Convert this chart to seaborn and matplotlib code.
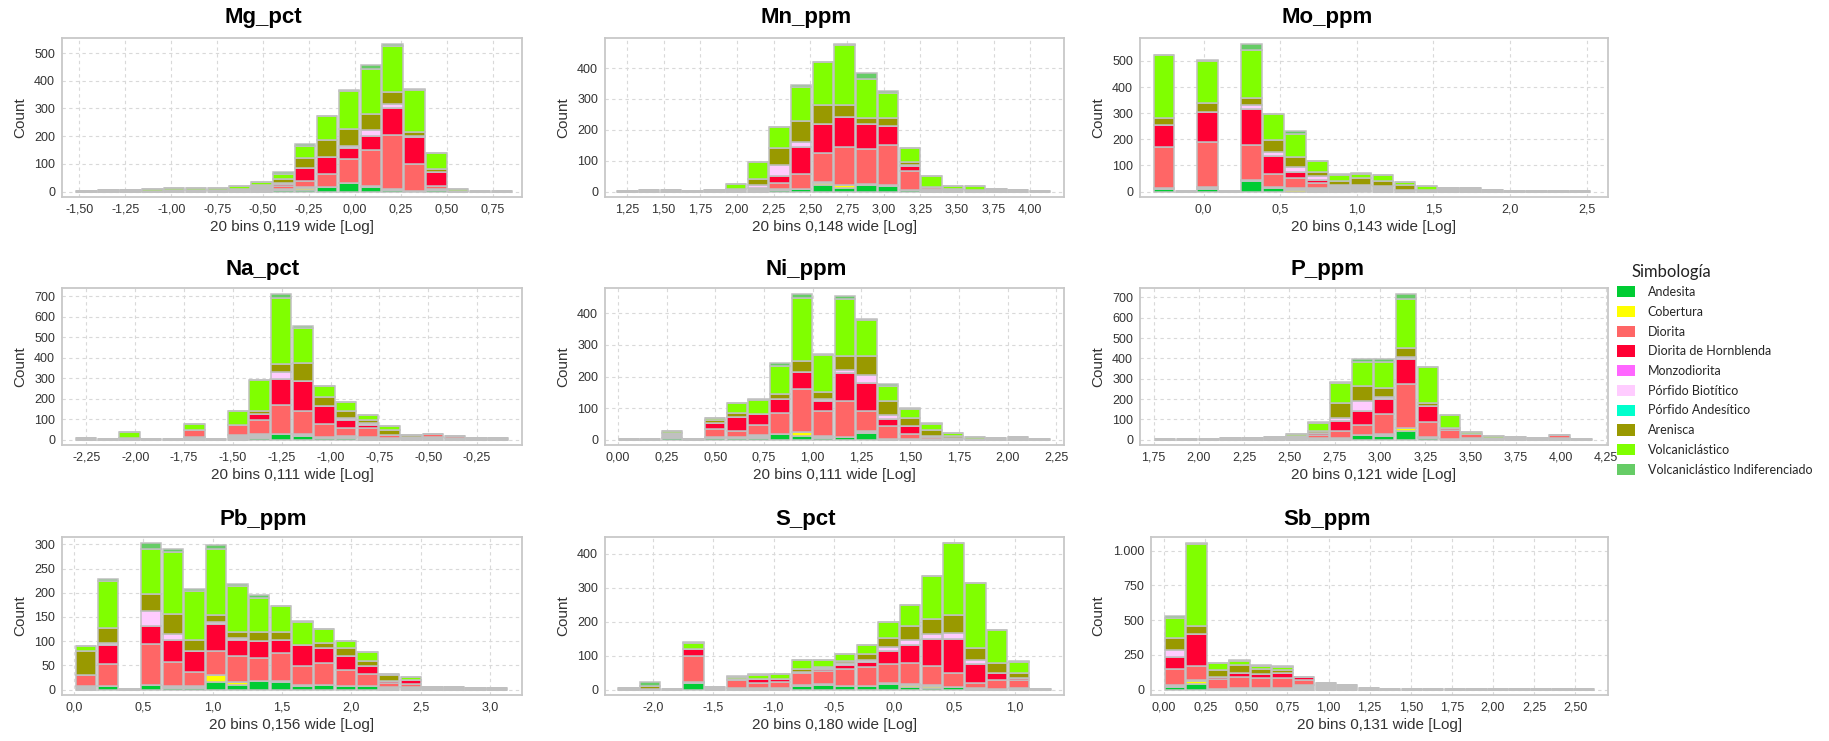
import numpy as np
import pandas as pd
import matplotlib
matplotlib.use("Agg")
import matplotlib.pyplot as plt
from matplotlib.patches import Patch
from matplotlib.ticker import FuncFormatter, MultipleLocator
import seaborn as sns

# columns of every data row, in this order
categories = ["Otro", "Andesita", "Cobertura", "Diorita", "Diorita de Hornblenda",
              "Monzodiorita", "Pórfido Biotítico", "Pórfido Andesítico",
              "Arenisca", "Volcaniclástico", "Volcaniclástico Indiferenciado"]
cat_colors = ["#c0c0c0", "#00cc33", "#ffff00", "#ff6666", "#ff0033", "#ff66ff",
              "#ffccff", "#00ffcc", "#999900", "#80ff00", "#66cc66"]
# bottom -> top order of the stacks
stack_order = ["Andesita", "Cobertura", "Otro", "Diorita", "Diorita de Hornblenda",
               "Monzodiorita", "Pórfido Biotítico", "Pórfido Andesítico",
               "Arenisca", "Volcaniclástico", "Volcaniclástico Indiferenciado"]

# counts per bin (20 bins), one row per bin
mg_pct = [
    [2, 0, 0, 0, 0, 0, 0, 0, 0, 0, 0], [5, 0, 0, 0, 0, 0, 0, 0, 0, 0, 0],
    [5, 0, 0, 0, 0, 0, 0, 0, 0, 0, 0], [4, 0, 0, 0, 0, 0, 0, 0, 0, 6, 0],
    [5, 0, 0, 0, 0, 0, 0, 0, 0, 8, 0], [5, 0, 0, 0, 0, 0, 0, 0, 0, 9, 0],
    [5, 0, 0, 0, 0, 0, 0, 0, 0, 9, 0], [8, 0, 0, 0, 0, 0, 0, 0, 0, 14, 0],
    [24, 0, 0, 0, 0, 0, 0, 0, 0, 12, 0], [5, 5, 0, 10, 8, 0, 4, 0, 12, 20, 6],
    [3, 6, 8, 22, 47, 0, 0, 0, 35, 43, 9], [3, 15, 0, 47, 61, 0, 0, 0, 60, 86, 0],
    [2, 30, 0, 85, 42, 0, 6, 0, 61, 136, 3], [3, 16, 0, 132, 51, 0, 20, 0, 58, 163, 15],
    [3, 6, 0, 196, 95, 0, 16, 0, 42, 169, 6], [2, 2, 0, 95, 99, 0, 4, 0, 12, 154, 2],
    [2, 6, 0, 14, 50, 0, 0, 0, 8, 58, 2], [3, 0, 0, 0, 0, 0, 0, 0, 0, 7, 0],
    [2, 0, 0, 0, 0, 0, 0, 0, 0, 0, 0], [2, 0, 0, 0, 0, 0, 0, 0, 0, 0, 0],
]
mn_ppm = [
    [1, 0, 0, 0, 0, 0, 0, 0, 0, 0, 0], [5, 0, 0, 0, 0, 0, 0, 0, 0, 0, 0],
    [5, 0, 0, 0, 0, 0, 0, 0, 0, 0, 0], [1, 0, 0, 0, 0, 0, 0, 0, 0, 0, 0],
    [5, 0, 0, 0, 0, 0, 0, 0, 0, 0, 0], [8, 0, 0, 0, 0, 0, 0, 0, 0, 17, 0],
    [12, 0, 0, 0, 0, 0, 10, 0, 18, 55, 2], [2, 6, 0, 21, 23, 0, 35, 0, 55, 66, 0],
    [2, 8, 0, 47, 86, 0, 17, 0, 68, 112, 5], [2, 21, 7, 95, 95, 0, 0, 0, 60, 140, 0],
    [2, 13, 7, 123, 95, 0, 0, 0, 40, 195, 3], [2, 23, 0, 112, 83, 0, 0, 0, 17, 128, 20],
    [2, 18, 0, 130, 62, 0, 0, 0, 25, 81, 7], [1, 5, 0, 62, 14, 0, 3, 0, 12, 43, 0],
    [10, 0, 0, 5, 0, 0, 0, 0, 0, 35, 0], [7, 0, 0, 0, 0, 0, 0, 0, 0, 10, 0],
    [5, 0, 0, 0, 0, 0, 0, 0, 0, 12, 0], [10, 0, 0, 0, 0, 0, 0, 0, 0, 0, 0],
    [5, 0, 0, 0, 0, 0, 0, 0, 0, 0, 0], [3, 0, 0, 0, 0, 0, 0, 0, 0, 0, 0],
]
mo_ppm = [
    [3, 10, 0, 158, 83, 0, 0, 0, 29, 238, 2], [1, 0, 0, 0, 0, 0, 0, 0, 0, 0, 0],
    [8, 10, 0, 172, 115, 0, 0, 0, 35, 160, 5], [1, 0, 0, 0, 0, 0, 0, 0, 0, 0, 0],
    [4, 42, 0, 134, 135, 0, 15, 0, 30, 180, 25], [3, 15, 0, 50, 70, 0, 13, 0, 45, 102, 0],
    [8, 0, 5, 38, 23, 0, 20, 0, 37, 90, 10], [12, 0, 0, 22, 11, 0, 15, 0, 15, 42, 2],
    [20, 0, 0, 0, 0, 0, 5, 0, 15, 22, 4], [22, 4, 0, 0, 0, 0, 0, 0, 25, 18, 3],
    [22, 0, 0, 0, 0, 0, 0, 0, 20, 20, 0], [8, 0, 0, 0, 0, 0, 0, 0, 17, 13, 0],
    [8, 0, 0, 0, 0, 0, 0, 0, 0, 12, 0], [12, 0, 0, 0, 0, 0, 0, 0, 0, 0, 0],
    [12, 0, 0, 0, 0, 0, 0, 0, 0, 0, 0], [7, 0, 0, 0, 0, 0, 0, 0, 0, 0, 0],
    [2, 0, 0, 0, 0, 0, 0, 0, 0, 0, 0], [2, 0, 0, 0, 0, 0, 0, 0, 0, 0, 0],
    [2, 0, 0, 0, 0, 0, 0, 0, 0, 0, 0], [2, 0, 0, 0, 0, 0, 0, 0, 0, 0, 0],
]
na_pct = [
    [8, 0, 0, 0, 0, 0, 0, 0, 0, 0, 0], [1, 0, 0, 0, 0, 0, 0, 0, 0, 0, 0],
    [8, 0, 0, 0, 0, 0, 0, 0, 0, 30, 0], [1, 0, 0, 0, 0, 0, 0, 0, 0, 0, 0],
    [1, 0, 0, 0, 0, 0, 0, 0, 0, 0, 0], [12, 0, 0, 33, 0, 0, 0, 0, 0, 30, 0],
    [1, 0, 0, 0, 0, 0, 0, 0, 0, 0, 0], [22, 0, 0, 50, 0, 0, 0, 0, 0, 66, 0],
    [20, 8, 0, 70, 27, 0, 0, 0, 17, 148, 3], [0, 28, 0, 140, 130, 0, 30, 0, 40, 322, 22],
    [10, 20, 0, 108, 149, 0, 0, 0, 86, 172, 8], [3, 8, 0, 64, 88, 0, 0, 0, 45, 55, 0],
    [12, 8, 0, 38, 37, 0, 13, 0, 32, 45, 0], [12, 0, 0, 45, 15, 0, 8, 0, 15, 25, 0],
    [10, 0, 0, 15, 0, 0, 0, 0, 23, 17, 0], [15, 0, 0, 0, 0, 0, 0, 0, 7, 3, 0],
    [15, 0, 0, 15, 0, 0, 0, 0, 0, 0, 0], [8, 0, 0, 10, 0, 0, 0, 0, 0, 0, 0],
    [8, 0, 0, 0, 0, 0, 0, 0, 0, 0, 0], [8, 0, 0, 0, 0, 0, 0, 0, 0, 0, 0],
]
ni_ppm = [
    [1, 0, 0, 0, 0, 0, 0, 0, 0, 0, 0], [1, 0, 0, 0, 0, 0, 0, 0, 0, 0, 0],
    [16, 4, 0, 0, 0, 0, 0, 0, 0, 6, 2], [1, 0, 0, 0, 0, 0, 0, 0, 0, 0, 0],
    [4, 5, 0, 25, 18, 0, 0, 0, 10, 6, 2], [3, 5, 0, 20, 45, 0, 0, 0, 10, 32, 0],
    [10, 5, 0, 30, 37, 0, 0, 0, 0, 43, 5], [0, 18, 0, 67, 43, 0, 0, 0, 17, 87, 11],
    [0, 13, 12, 137, 53, 0, 0, 0, 35, 200, 12], [7, 5, 0, 80, 30, 0, 8, 0, 20, 118, 2],
    [0, 10, 0, 112, 88, 0, 12, 0, 43, 180, 10], [6, 22, 0, 64, 86, 0, 27, 0, 60, 115, 2],
    [3, 0, 0, 39, 23, 0, 13, 0, 44, 48, 5], [3, 0, 0, 15, 24, 0, 0, 0, 26, 30, 2],
    [3, 0, 0, 5, 4, 0, 0, 0, 18, 20, 2], [5, 0, 0, 0, 0, 0, 0, 0, 8, 7, 0],
    [3, 0, 0, 0, 0, 0, 0, 0, 0, 7, 0], [5, 0, 0, 0, 0, 0, 0, 0, 0, 0, 0],
    [10, 0, 0, 0, 0, 0, 0, 0, 0, 0, 0], [2, 0, 0, 0, 0, 0, 0, 0, 0, 0, 0],
]
p_ppm = [
    [2, 0, 0, 0, 0, 0, 0, 0, 0, 0, 0], [2, 0, 0, 0, 0, 0, 0, 0, 0, 0, 0],
    [2, 0, 0, 0, 0, 0, 0, 0, 0, 0, 0], [8, 0, 0, 0, 0, 0, 0, 0, 0, 0, 0],
    [8, 0, 0, 0, 0, 0, 0, 0, 0, 0, 0], [12, 0, 0, 0, 0, 0, 0, 0, 0, 0, 0],
    [10, 0, 0, 5, 5, 0, 0, 0, 0, 10, 0], [8, 0, 0, 15, 8, 0, 4, 0, 10, 38, 2],
    [8, 0, 0, 35, 50, 0, 12, 0, 77, 98, 3], [0, 22, 0, 48, 70, 0, 50, 0, 72, 118, 15],
    [8, 20, 0, 97, 75, 0, 8, 0, 45, 127, 15], [0, 45, 12, 217, 125, 0, 10, 0, 42, 243, 24],
    [3, 8, 0, 77, 80, 0, 0, 0, 15, 175, 0], [5, 0, 0, 45, 8, 0, 0, 0, 2, 60, 2],
    [8, 0, 0, 19, 0, 0, 0, 0, 0, 10, 0], [8, 0, 0, 0, 0, 0, 0, 0, 0, 10, 0],
    [15, 0, 0, 0, 0, 0, 0, 0, 0, 0, 0], [8, 0, 0, 0, 0, 0, 0, 0, 0, 0, 0],
    [10, 0, 0, 15, 0, 0, 0, 0, 0, 0, 0], [2, 0, 0, 0, 0, 0, 0, 0, 0, 0, 0],
]
pb_ppm = [
    [8, 0, 0, 22, 0, 0, 0, 0, 50, 10, 0], [0, 7, 0, 45, 40, 0, 5, 0, 30, 98, 3],
    [1, 0, 0, 0, 0, 0, 0, 0, 0, 0, 0], [0, 10, 0, 85, 37, 0, 30, 0, 36, 92, 13],
    [4, 4, 0, 49, 46, 0, 12, 0, 42, 128, 5], [4, 4, 0, 29, 43, 0, 0, 0, 22, 101, 5],
    [0, 15, 15, 50, 55, 0, 5, 0, 15, 135, 8], [0, 10, 5, 55, 32, 0, 5, 0, 13, 93, 5],
    [0, 18, 0, 47, 35, 0, 0, 0, 20, 70, 6], [3, 15, 0, 57, 28, 0, 0, 0, 17, 53, 0],
    [2, 7, 0, 40, 43, 0, 0, 0, 0, 48, 2], [0, 10, 0, 45, 30, 0, 0, 0, 12, 28, 0],
    [0, 7, 0, 33, 30, 0, 0, 0, 15, 15, 0], [0, 8, 0, 24, 16, 0, 0, 0, 12, 18, 0],
    [5, 0, 0, 9, 3, 0, 0, 0, 13, 3, 0], [5, 0, 0, 7, 7, 0, 0, 0, 0, 8, 0],
    [6, 0, 0, 0, 0, 0, 0, 0, 0, 0, 0], [6, 0, 0, 0, 0, 0, 0, 0, 0, 0, 0],
    [4, 0, 0, 0, 0, 0, 0, 0, 0, 0, 0], [4, 0, 0, 0, 0, 0, 0, 0, 0, 0, 0],
]
s_pct = [
    [5, 0, 0, 0, 0, 0, 0, 0, 0, 0, 0], [3, 0, 0, 0, 0, 0, 0, 0, 7, 0, 12],
    [1, 0, 0, 0, 0, 0, 0, 0, 0, 0, 0], [3, 20, 0, 77, 20, 0, 0, 0, 0, 17, 3],
    [8, 0, 0, 0, 0, 0, 0, 0, 0, 0, 0], [5, 0, 0, 23, 0, 0, 0, 0, 4, 6, 2],
    [5, 0, 0, 15, 10, 0, 0, 0, 0, 13, 2], [5, 0, 0, 17, 10, 0, 0, 0, 0, 13, 2],
    [3, 10, 0, 35, 5, 0, 0, 0, 8, 27, 0], [2, 14, 0, 38, 6, 0, 4, 0, 4, 20, 0],
    [2, 10, 0, 48, 14, 0, 3, 0, 8, 20, 0], [2, 10, 0, 55, 15, 0, 5, 0, 17, 26, 0],
    [3, 17, 0, 55, 40, 0, 10, 0, 26, 47, 0], [2, 8, 7, 60, 53, 0, 17, 0, 40, 63, 0],
    [2, 5, 7, 56, 80, 0, 15, 0, 42, 128, 0], [0, 8, 0, 42, 98, 0, 20, 0, 52, 212, 0],
    [5, 0, 0, 15, 55, 0, 13, 0, 34, 193, 0], [3, 0, 0, 25, 20, 0, 0, 0, 30, 97, 0],
    [5, 0, 0, 22, 8, 0, 0, 0, 15, 30, 5], [3, 0, 0, 0, 0, 0, 0, 0, 0, 0, 0],
]
sb_ppm = [
    [8, 22, 0, 120, 85, 0, 50, 0, 85, 142, 18], [5, 40, 25, 100, 230, 0, 0, 0, 55, 595, 5],
    [8, 0, 0, 70, 10, 0, 0, 0, 50, 50, 7], [15, 0, 0, 75, 30, 0, 0, 0, 55, 30, 10],
    [12, 0, 0, 75, 25, 0, 0, 0, 35, 25, 8], [15, 0, 0, 68, 35, 0, 0, 0, 20, 27, 5],
    [35, 0, 0, 35, 22, 0, 0, 0, 0, 0, 0], [50, 0, 0, 0, 0, 0, 0, 0, 0, 0, 0],
    [32, 0, 0, 0, 0, 0, 0, 0, 0, 0, 0], [14, 0, 0, 0, 0, 0, 0, 0, 0, 0, 0],
    [3, 0, 0, 0, 0, 0, 0, 0, 0, 0, 0], [3, 0, 0, 0, 0, 0, 0, 0, 0, 0, 0],
    [3, 0, 0, 0, 0, 0, 0, 0, 0, 0, 0], [2, 0, 0, 0, 0, 0, 0, 0, 0, 0, 0],
    [2, 0, 0, 0, 0, 0, 0, 0, 0, 0, 0], [2, 0, 0, 0, 0, 0, 0, 0, 0, 0, 0],
    [2, 0, 0, 0, 0, 0, 0, 0, 0, 0, 0], [2, 0, 0, 0, 0, 0, 0, 0, 0, 0, 0],
    [2, 0, 0, 0, 0, 0, 0, 0, 0, 0, 0], [2, 0, 0, 0, 0, 0, 0, 0, 0, 0, 0],
]

titles = ["Mg_pct", "Mn_ppm", "Mo_ppm", "Na_pct", "Ni_ppm", "P_ppm", "Pb_ppm", "S_pct", "Sb_ppm"]
datasets = [mg_pct, mn_ppm, mo_ppm, na_pct, ni_ppm, p_ppm, pb_ppm, s_pct, sb_ppm]
bin_start = [-1.52, 1.18, -0.33, -2.307, 0.0, 1.753, 0.01, -2.296, 0.0]
bin_width = [0.119, 0.148, 0.143, 0.111, 0.111, 0.121, 0.156, 0.180, 0.131]
x_limits = [(-1.595, 0.91), (1.10, 4.23), (-0.415, 2.64), (-2.375, -0.02), (-0.066, 2.29),
            (1.675, 4.26), (-0.086, 3.23), (-2.40, 1.41), (-0.08, 2.70)]
x_step = [0.25, 0.25, 0.5, 0.25, 0.25, 0.25, 0.5, 0.5, 0.25]
x_decimals = [2, 2, 1, 2, 2, 2, 1, 1, 2]
y_step = [100, 100, 100, 100, 100, 100, 50, 100, 250]

W, H = 1829, 741
col_left = [62, 605, 1140]
col_right = [522, 1064, 1608]
row_top = [38, 288, 537]
row_bottom = [197, 445, 695]
title_x = [263, 806, 1327]
title_y = [18, 269, 519]

sns.set_style("white")
plt.rcParams["font.family"] = ["Liberation Sans", "DejaVu Sans"]

fig = plt.figure(figsize=(W / 100, H / 100), dpi=100)
palette = dict(zip(categories, cat_colors))

for k, name in enumerate(titles):
    r, c = divmod(k, 3)
    left = col_left[c] + (11 if name == "Sb_ppm" else 0)
    ax = fig.add_axes([left / W, 1 - row_bottom[r] / H,
                       (col_right[c] - left) / W, (row_bottom[r] - row_top[r]) / H])
    lo, w = bin_start[k], bin_width[k]
    counts = np.array(datasets[k])
    rows = []
    for i, row in enumerate(counts):
        for cat, n in zip(categories, row):
            rows.append((lo + (i + 0.5) * w, cat, n))
    df = pd.DataFrame(rows, columns=["x", "cat", "n"])
    edges = [lo + w * j for j in range(21)]
    sns.histplot(data=df, x="x", weights="n", hue="cat", hue_order=stack_order[::-1],
                 palette=palette, multiple="stack", bins=edges, shrink=0.94,
                 edgecolor="#c0c0c0", linewidth=1.1, alpha=1, legend=False, ax=ax)

    top = counts.sum(axis=1).max() * 1.04
    ax.set_ylim(-0.035 * top, top)
    ax.set_xlim(*x_limits[k])
    ax.xaxis.set_major_locator(MultipleLocator(x_step[k]))
    ax.yaxis.set_major_locator(MultipleLocator(y_step[k]))
    d = x_decimals[k]
    ax.xaxis.set_major_formatter(FuncFormatter(lambda v, p, d=d: f"{v:.{d}f}".replace(".", ",")))
    ax.yaxis.set_major_formatter(FuncFormatter(lambda v, p: f"{int(round(v)):,}".replace(",", ".")))

    ax.set_axisbelow(True)
    ax.grid(True, linestyle=(0, (3, 3)), color="#d9d9d9", linewidth=0.8)
    for s in ax.spines.values():
        s.set_visible(True)
        s.set_color("#c8c8c8")
        s.set_linewidth(1.3)
    ax.tick_params(axis="both", direction="out", length=3, width=1, color="#999999",
                   labelcolor="#333333", labelsize=9, pad=2)
    ax.set_xlabel(f"20 bins {w:.3f} wide [Log]".replace(".", ","), fontsize=11,
                  color="#333333", labelpad=3)
    ax.set_ylabel("Count", fontsize=11, color="#333333", labelpad=5)

    fig.text(title_x[c] / W, 1 - title_y[r] / H, name, ha="center", va="center",
             fontsize=16, fontweight="bold", color="black")

# legend
legend_names = categories[1:]
handles = [Patch(facecolor=palette[n], edgecolor="none") for n in legend_names]
fig.text(1671 / W, 1 - 272 / H, "Simbología", ha="center", va="center",
         fontsize=12, family="Lato", color="#222222")
fig.legend(handles, legend_names, loc="upper left", bbox_to_anchor=(1617 / W, 1 - 286 / H),
           frameon=False, prop={"family": "Lato", "size": 9}, handlelength=1.45,
           handleheight=1.0, handletextpad=1.0, labelspacing=0.62, borderpad=0,
           borderaxespad=0)

fig.savefig("out.png", dpi=100)
